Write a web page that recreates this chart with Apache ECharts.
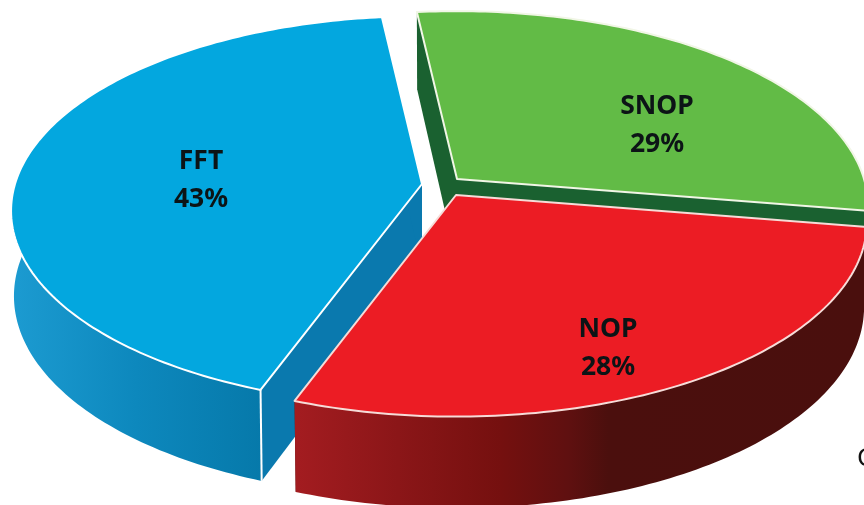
<!DOCTYPE html>
<html>
<head>
<meta charset="utf-8">
<style>
html, body { margin: 0; padding: 0; background: #fff; }
#main { width: 864px; height: 505px; }
</style>
<script src="https://cdn.jsdelivr.net/npm/echarts@6/dist/echarts.min.js"></script>
</head>
<body>
<div id="main"></div>
<script>
var sliceNames = ["FFT", "SNOP", "NOP"];
// they round to the printed 43 / 29 / 28
var sliceValues = [42.6, 29.4, 28];

// layout of the tilted disc, all in pixels
var startAngle = 249.8; // clockwise from here, FFT first
var radiusX = 407;
var radiusY = 191;
var tilt = 0.138;
var apexes = [[422, 184], [457, 179], [456, 195]];
var labelPos = [[201, 180], [657, 125], [608, 348]];
var drawOrder = [2, 1, 3];
var topColors = ["#03a7df", "#62bb46", "#ec1c24"];
var rimColors = ["#ffffff", "#f1f6e6", "#f6dcd8"];
var cutColors = ["#0a79ae", "#1a6130", "#4a0f0d"];

function gradient(x0, x1, stops) {
  return new echarts.graphic.LinearGradient(x0, 0, x1, 0, stops, true);
}
// SNOP's outer wall is hidden behind NOP, so it has none
var wallColors = [
  gradient(11, 262, [
    { offset: 0, color: "#1c9bd1" },
    { offset: 0.5, color: "#0d88bd" },
    { offset: 1, color: "#0679aa" },
  ]),
  null,
  gradient(296, 864, [
    { offset: 0, color: "#a31c20" },
    { offset: 0.18, color: "#8b1618" },
    { offset: 0.36, color: "#75100f" },
    { offset: 0.48, color: "#5f1010" },
    { offset: 0.55, color: "#4b0f0d" },
    { offset: 1, color: "#4a0f0d" },
  ]),
];

var total = sliceValues.reduce(function (a, b) { return a + b; }, 0);

function topPoint(apex, deg) {
  var t = (deg * Math.PI) / 180;
  var w = 1 + tilt * Math.sin(t);
  return [apex[0] + (radiusX * Math.cos(t)) / w, apex[1] - (radiusY * Math.sin(t)) / w];
}

// lower disc: a little smaller, and further below the top at the front
function lowPoint(apex, deg) {
  var p = topPoint(apex, deg);
  var s = Math.sin((deg * Math.PI) / 180);
  return [apex[0] + (p[0] - apex[0]) * 0.993, p[1] + 84.2 - 7.2 * s];
}

function apexLow(apex) {
  return [apex[0], apex[1] + 84.2];
}

function arc(fn, apex, from, to) {
  var pts = [];
  var n = Math.max(2, Math.ceil(Math.abs(from - to)));
  for (var i = 0; i <= n; i++) {
    pts.push(fn(apex, from + ((to - from) * i) / n));
  }
  return pts;
}

function renderSlice(params, api) {
  var i = params.dataIndex;
  var before = 0;
  for (var j = 0; j < i; j++) before += sliceValues[j];
  var a0 = startAngle - (before / total) * 360;
  var a1 = a0 - (api.value(0) / total) * 360;
  var apex = apexes[i];
  var z = drawOrder[i] * 10;

  var topArc = arc(topPoint, apex, a0, a1);
  var lowArc = arc(lowPoint, apex, a0, a1);
  var rim = rimColors[i];
  var children = [];

  function poly(points, fill, z2) {
    children.push({ type: "polygon", shape: { points: points }, style: { fill: fill }, z2: z2 });
  }

  // faces of the two cuts
  poly([apex, topArc[0], lowArc[0], apexLow(apex)], cutColors[i], z);
  poly([apex, topArc[topArc.length - 1], lowArc[lowArc.length - 1], apexLow(apex)], cutColors[i], z);
  // outer wall
  if (wallColors[i]) {
    poly(topArc.concat(lowArc.slice().reverse()), wallColors[i], z + 1);
  }
  // white edge between the wall and the cut, only FFT shows one
  if (i === 0) {
    children.push({
      type: "line",
      shape: { x1: topArc[0][0], y1: topArc[0][1], x2: lowArc[0][0], y2: lowArc[0][1] },
      style: { stroke: rim, lineWidth: 2 },
      z2: z + 2,
    });
  }
  // top face
  children.push({
    type: "polygon",
    shape: { points: [apex].concat(topArc) },
    style: { fill: topColors[i], stroke: rim, lineWidth: 2, lineJoin: "round" },
    z2: z + 3,
  });
  children.push({
    type: "text",
    style: {
      x: labelPos[i][0],
      y: labelPos[i][1],
      text: sliceNames[i] + "\n" + Math.round(api.value(0)) + "%",
      fill: "#0c1416",
      font: 'bold 26.5px "Noto Sans"',
      lineHeight: 38,
      align: "center",
      verticalAlign: "middle",
    },
    z2: 100,
  });
  return { type: "group", children: children };
}

var myChart = echarts.init(document.getElementById("main"));
var option = {
  animation: false,
  backgroundColor: "#ffffff",
  graphic: [
    {
      type: "text",
      left: 857,
      top: 446,
      style: { text: "C", fill: "#111111", font: '26px "Noto Sans"' },
    },
  ],
  series: [
    {
      type: "custom",
      coordinateSystem: "none",
      renderItem: renderSlice,
      data: sliceValues.map(function (v) { return [v]; }),
    },
  ],
};
myChart.setOption(option);
</script>
</body>
</html>
